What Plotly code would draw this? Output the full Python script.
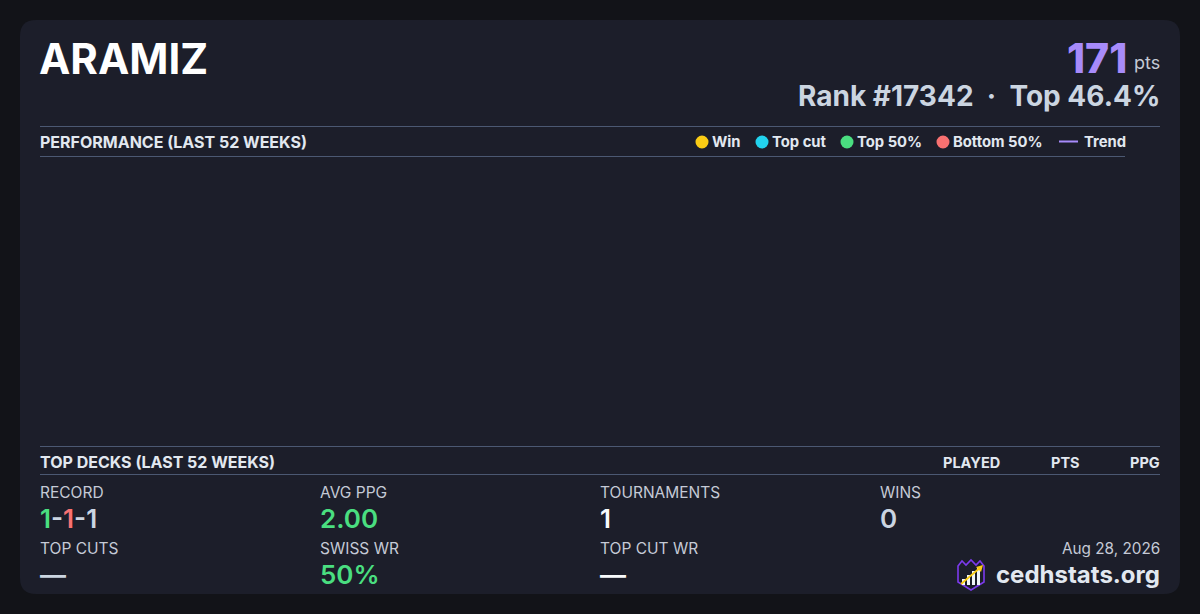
import plotly.graph_objects as go

W, H = 1200, 614
FONT = "Inter"

# card data
player = "ARAMIZ"
points = 171
rank = 17342
top_pct = 46.4
card_date = "Aug 28, 2026"
site = "cedhstats.org"

# performance chart (no events in the last 52 weeks)
week_dates = []
week_points = []

legend_labels = ["Win", "Top cut", "Top 50%", "Bottom 50%", "Trend"]
legend_colors = ["#facc15", "#22d3ee", "#4ade80", "#f87171", "#a78bfa"]
legend_x = [702, 762, 847, 943, 1059]

deck_columns = ["PLAYED", "PTS", "PPG"]
deck_col_x = [1000, 1080, 1160]

record = [1, 1, 1]
record_colors = ["#4ade80", "#f87171", "#cbd5e1"]
stat_labels = ["RECORD", "AVG PPG", "TOURNAMENTS", "WINS",
               "TOP CUTS", "SWISS WR", "TOP CUT WR"]
stat_values = [None, "2.00", "1", "0", "—", "50%", "—"]
stat_colors = [None, "#4ade80", "#f8fafc", "#cbd5e1", "#cbd5e1", "#4ade80", "#f8fafc"]

BG = "#121318"
CARD = "#1c1e2a"
LINE = "#4b5872"
HEAD = "#e2e8f0"
LABEL = "#c5cad6"

fig = go.Figure()

# empty performance plot on its own axes
fig.add_trace(go.Scatter(x=week_dates, y=week_points, mode="markers",
                         xaxis="x2", yaxis="y2", showlegend=False))


def text(x, y, s, size, color, weight=400, xanchor="left", yanchor="middle"):
    # annotations carry ~2px of padding, pull it back
    x = x - 2 if xanchor == "left" else x + 2
    fig.add_annotation(x=x, y=y, xref="x", yref="y", text=s, showarrow=False,
                       xanchor=xanchor, yanchor=yanchor,
                       font=dict(family=FONT, size=size, color=color, weight=weight))


def hline(y, x0, x1):
    fig.add_shape(type="line", xref="x", yref="y", x0=x0, x1=x1, y0=y, y1=y,
                  line=dict(color=LINE, width=1))


# card background with rounded corners
r = 16
x0, y0, x1, y1 = 20, 20, 1180, 594
card_path = (f"M {x0+r},{y0} L {x1-r},{y0} Q {x1},{y0} {x1},{y0+r} "
             f"L {x1},{y1-r} Q {x1},{y1} {x1-r},{y1} L {x0+r},{y1} "
             f"Q {x0},{y1} {x0},{y1-r} L {x0},{y0+r} Q {x0},{y0} {x0+r},{y0} Z")
fig.add_shape(type="path", xref="x", yref="y", path=card_path,
              fillcolor=CARD, line=dict(width=0), layer="below")

# header
text(39, 58, player, 42, "#ffffff", 700)
text(1127, 58, str(points), 41, "#a78bfa", 800, xanchor="right")
text(1160, 62, "pts", 18, LABEL, 400, xanchor="right")
text(1160, 96, f"Rank #{rank}  ·  Top {top_pct}%", 28, "#cbd5e1", 700, xanchor="right")

# performance section
hline(126.5, 40, 1160)
hline(156.5, 40, 1125)
text(40, 142, "PERFORMANCE (LAST 52 WEEKS)", 16, HEAD, 700)
for lab, col, lx in zip(legend_labels, legend_colors, legend_x):
    if lab == "Trend":
        fig.add_shape(type="line", xref="x", yref="y", x0=lx, x1=lx + 19,
                      y0=141.5, y1=141.5, line=dict(color=col, width=2))
        text(lx + 25, 142, lab, 14.8, HEAD, 700)
    else:
        fig.add_shape(type="circle", xref="x", yref="y", x0=lx - 6.5, x1=lx + 6.5,
                      y0=135.5, y1=148.5, fillcolor=col, line=dict(width=0))
        text(lx + 10, 142, lab, 14.8, HEAD, 700)

# top decks section
hline(446.5, 40, 1160)
hline(474.5, 40, 1160)
text(40, 462, "TOP DECKS (LAST 52 WEEKS)", 16, HEAD, 700)
for lab, cx in zip(deck_columns, deck_col_x):
    text(cx, 462, lab, 14.5, HEAD, 700, xanchor="right")

# stats grid
col_x = [40, 320, 600, 880]
for i, lab in enumerate(stat_labels):
    cx = col_x[i % 4]
    row = i // 4
    ly = 492 + row * 56
    text(cx, ly, lab, 15.5, LABEL, 400)
    if i == 0:
        parts = [f"<span style='color:{c}'>{v}</span>" for v, c in zip(record, record_colors)]
        val = "<span style='color:#cbd5e1'>-</span>".join(parts)
        text(cx, ly + 26, val, 26, LABEL, 600)
    else:
        text(cx, ly + 26, stat_values[i], 26, stat_colors[i], 600)

# footer
text(1160, 548, card_date, 15.3, LABEL, 400, xanchor="right")
text(1160, 574, site, 24, HEAD, 700, xanchor="right")

# logo: crowned shield with bars and arrow
shield = ("M 958,566 L 962,561 L 966,565 L 971,560 L 976,565 L 980,561 L 984,566 "
          "L 984,582 L 971,590 L 958,582 Z")
fig.add_shape(type="path", xref="x", yref="y", path=shield,
              fillcolor="#1c1e2a", line=dict(color="#7c3aed", width=1.6))
bars = [(962, 579), (967, 575), (972, 571), (977, 568)]
for bx, top in bars:
    fig.add_shape(type="rect", xref="x", yref="y", x0=bx, x1=bx + 3, y0=top, y1=585,
                  fillcolor="#f1f5f9", line=dict(width=0))
fig.add_shape(type="line", xref="x", yref="y", x0=961, y0=584, x1=981, y1=567,
              line=dict(color="#facc15", width=1.8))
fig.add_shape(type="path", xref="x", yref="y", path="M 983,565 L 976,567 L 981,572 Z",
              fillcolor="#facc15", line=dict(width=0))

fig.update_layout(
    width=W, height=H, autosize=False,
    margin=dict(l=0, r=0, t=0, b=0),
    paper_bgcolor=BG, plot_bgcolor="rgba(0,0,0,0)",
    showlegend=False,
    xaxis=dict(range=[0, W], visible=False, fixedrange=True),
    yaxis=dict(range=[H, 0], visible=False, fixedrange=True),
    xaxis2=dict(domain=[40 / W, 1160 / W], visible=False, anchor="y2"),
    yaxis2=dict(domain=[1 - 446 / H, 1 - 157 / H], visible=False, anchor="x2"),
)

fig.write_html("out.html", config={"displayModeBar": False},
               post_script="document.body.style.margin='0';document.body.style.overflow='hidden';")
